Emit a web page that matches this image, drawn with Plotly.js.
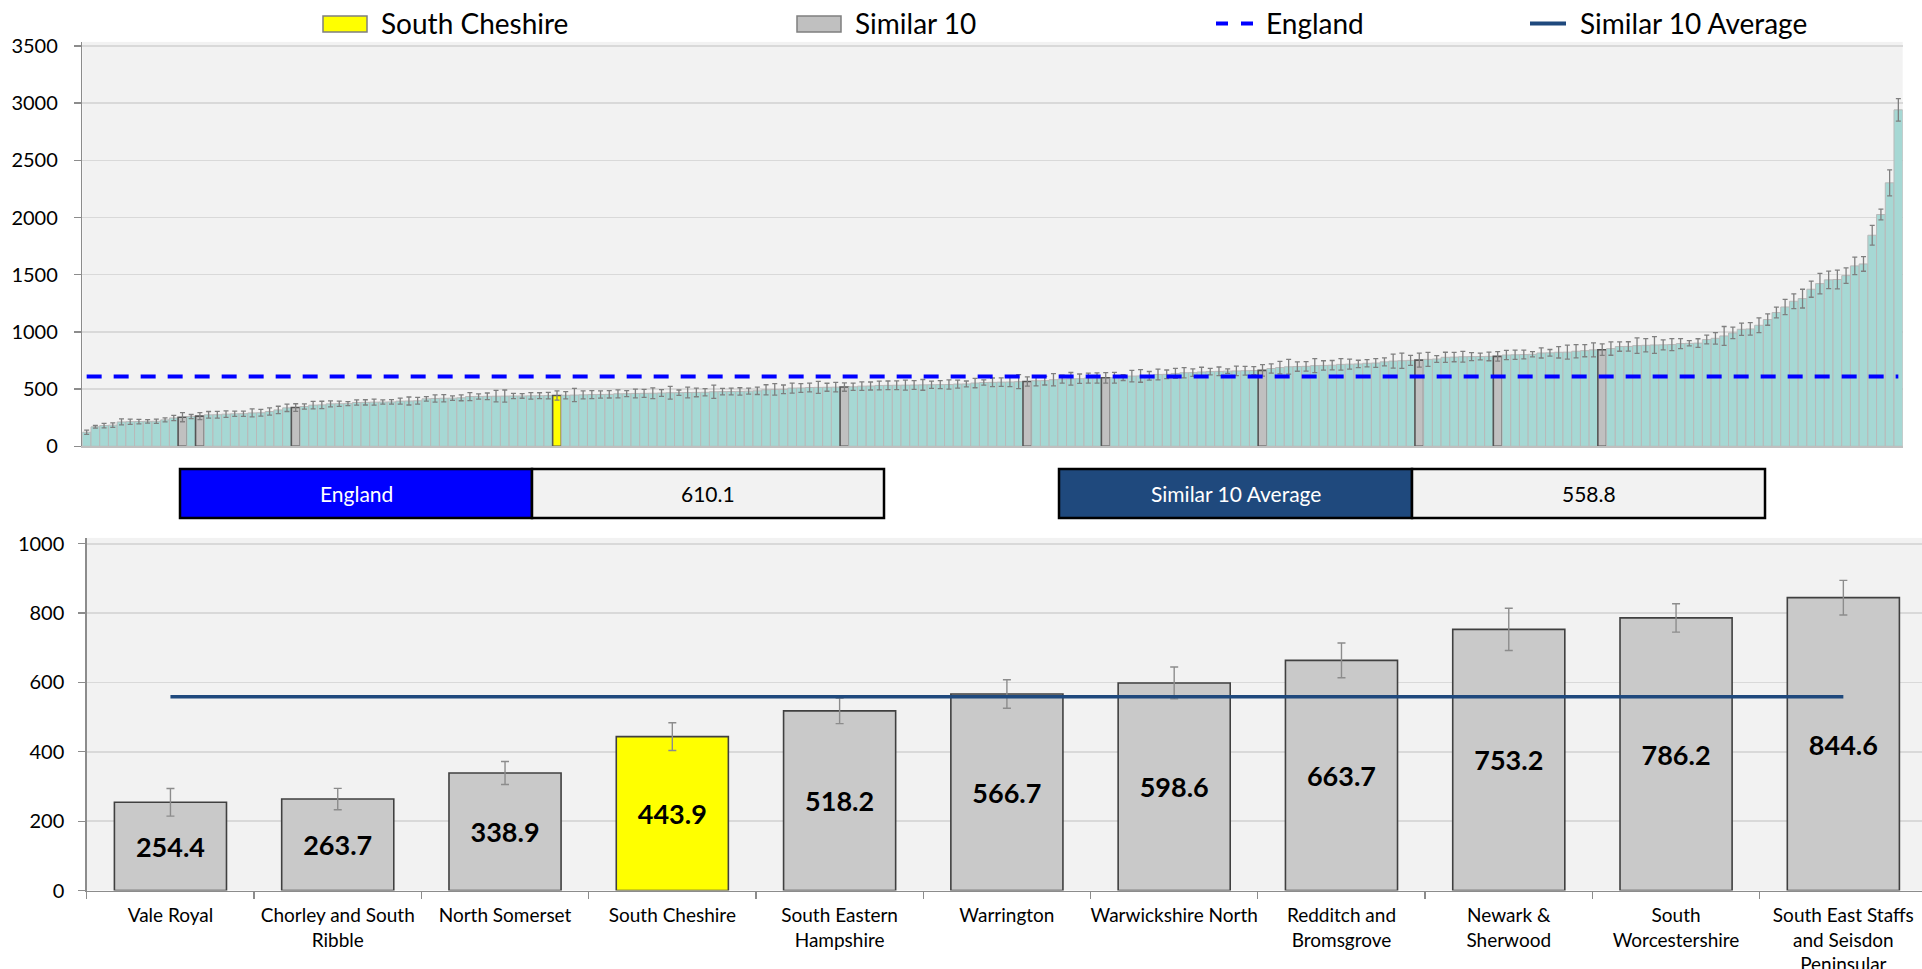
<!DOCTYPE html>
<html>
<head>
<meta charset="utf-8">
<script src="https://cdn.plot.ly/plotly-3.0.1.min.js"></script>
<style>
html, body { margin: 0; padding: 0; overflow: hidden; background: #ffffff; }
#chart { width: 1927px; height: 969px; }
</style>
</head>
<body>
<div id="chart"></div>
<script>
// ---------------- DATA ----------------
// All areas ranked (ascending), rate values
const rankValues = [
  123, 170, 181, 185, 213, 215, 216, 218, 219, 231,
  248, 254.4, 260, 263.7, 275, 276, 281, 284, 285, 292,
  293, 304, 318, 336, 338.9, 348, 360, 362, 371, 372,
  373, 383, 384, 386, 387, 388, 395, 396, 398, 415,
  418, 420, 421, 424, 435, 436, 437, 438, 439, 440,
  440, 441, 442, 443, 443.9, 446, 448, 450, 452, 453,
  454, 459, 460, 462, 463, 464, 466, 468, 469, 470,
  471, 472, 477, 478, 479, 480, 482, 485, 494, 497,
  498, 509, 510, 514, 515, 516, 517, 518.2, 520, 526,
  527, 532, 533, 534, 535, 536, 537, 538, 539, 540,
  544, 545, 553, 558, 559, 561, 562, 565, 566.7, 573,
  574, 582, 588, 590, 591, 596, 597, 598.6, 600, 601,
  614, 615, 616, 628, 629, 637, 643, 644, 650, 653,
  655, 657, 659, 661, 662, 663.7, 680, 688, 695, 697,
  699, 705, 707, 709, 716, 718, 720, 726, 728, 738,
  745, 748, 751, 753.2, 760, 763, 778, 780, 783, 784,
  785, 786, 786.2, 798, 800, 802, 804, 816, 817, 822,
  823, 831, 836, 843, 844.6, 854, 872, 873, 880, 883,
  886, 887, 889, 898, 900, 902, 933, 944, 965, 991,
  1023, 1026, 1058, 1108, 1169, 1218, 1268, 1291, 1373, 1422,
  1455, 1458, 1492, 1577, 1594, 1845, 2026, 2303, 2941
];
// Half-width of the confidence interval for each ranked area
const rankErrors = [
  18, 12, 20, 20, 26, 23, 20, 15, 18, 18,
  23, 40, 18, 31, 29, 29, 29, 23, 23, 35,
  29, 32, 32, 32, 33, 23, 32, 32, 26, 23,
  18, 23, 23, 26, 18, 20, 26, 35, 29, 20,
  32, 32, 20, 26, 35, 23, 29, 50, 53, 23,
  20, 29, 26, 29, 40, 32, 58, 35, 35, 32,
  32, 35, 26, 38, 35, 47, 29, 55, 23, 47,
  38, 32, 58, 29, 29, 32, 26, 32, 44, 50,
  38, 44, 38, 38, 53, 35, 41, 37, 32, 38,
  35, 38, 38, 38, 44, 38, 47, 32, 35, 41,
  35, 26, 41, 23, 38, 38, 41, 61, 41, 44,
  38, 53, 35, 55, 41, 44, 44, 46, 47, 26,
  50, 55, 38, 47, 38, 44, 44, 32, 41, 29,
  38, 20, 41, 38, 35, 50, 41, 55, 64, 41,
  41, 61, 41, 41, 50, 44, 32, 32, 38, 35,
  61, 67, 44, 61, 61, 29, 44, 41, 47, 35,
  29, 38, 41, 41, 41, 38, 23, 44, 29, 50,
  61, 58, 53, 61, 50, 58, 41, 41, 67, 58,
  73, 44, 53, 44, 23, 38, 38, 50, 82, 50,
  53, 55, 64, 50, 47, 67, 64, 82, 70, 90,
  76, 82, 67, 76, 64, 87, 47, 114, 99
];
// 1-based rank positions of the highlighted areas in the ranked chart
const localRank = 55;
const similarRanks = [12, 14, 25, 88, 109, 118, 136, 154, 163, 175];

// Lower chart: South Cheshire and its 10 similar areas
const areaNames = [
  "Vale Royal", "Chorley and South Ribble", "North Somerset", "South Cheshire",
  "South Eastern Hampshire", "Warrington", "Warwickshire North",
  "Redditch and Bromsgrove", "Newark & Sherwood", "South Worcestershire",
  "South East Staffs and Seisdon Peninsular"
];
const areaTickLabels = [
  "Vale Royal", "Chorley and South<br>Ribble", "North Somerset", "South Cheshire",
  "South Eastern<br>Hampshire", "Warrington", "Warwickshire North",
  "Redditch and<br>Bromsgrove", "Newark &<br>Sherwood", "South<br>Worcestershire",
  "South East Staffs<br>and Seisdon<br>Peninsular"
];
const areaValues = [254.4, 263.7, 338.9, 443.9, 518.2, 566.7, 598.6, 663.7, 753.2, 786.2, 844.6];
const areaErrors = [40, 31, 33, 40, 37, 41, 46, 50, 61, 41, 50];
const localName = "South Cheshire";
const englandValue = 610.1;
const similarAverage = 558.8;

const topTicks = [0, 500, 1000, 1500, 2000, 2500, 3000, 3500];
const bottomTicks = [0, 200, 400, 600, 800, 1000];

// ---------------- STYLE ----------------
const W = 1927, H = 969;
const FONT = "Lato, 'Open Sans', 'DejaVu Sans', sans-serif";
const TEAL = "#a6d8d4";
const GREY = "#c0c0c0";
const GREY2 = "#c9c9c9";
const YELLOW = "#ffff00";
const ENG_BLUE = "#0000ff";
const AVG_BLUE = "#1f497d";
function fx(p) { return p / W; }
function fy(p) { return 1 - p / H; }

// ---------------- TRACES ----------------
const ranks = rankValues.map((v, i) => i + 1);
const isHi = r => r === localRank || similarRanks.includes(r);
const rankColors = ranks.map(r => r === localRank ? YELLOW : (similarRanks.includes(r) ? GREY : TEAL));
const rankLineColors = ranks.map(r => isHi(r) ? "#555555" : "#b9b9b9");
const rankLineWidths = ranks.map(r => isHi(r) ? 1.6 : 1);

const traces = [
  {
    type: "bar", x: ranks, y: rankValues, width: 1,
    xaxis: "x", yaxis: "y",
    marker: { color: rankColors, line: { color: rankLineColors, width: rankLineWidths } },
    error_y: { type: "data", array: rankErrors, visible: true, color: "#7f7f7f", thickness: 1.3, width: 2.5 },
    hoverinfo: "x+y"
  },
  {
    type: "scatter", mode: "lines", x: ranks, y: ranks.map(() => englandValue),
    xaxis: "x", yaxis: "y",
    line: { color: ENG_BLUE, width: 4, dash: "15px,12px" }, hoverinfo: "y"
  },
  {
    type: "bar", x: areaNames, y: areaValues, width: 0.67,
    xaxis: "x2", yaxis: "y2",
    marker: { color: areaNames.map(n => n === localName ? YELLOW : GREY2), line: { color: "#404040", width: 1.6 } },
    error_y: { type: "data", array: areaErrors, visible: true, color: "#8c8c8c", thickness: 1.4, width: 4 },
    text: areaValues.map(v => v.toFixed(1)),
    textposition: "inside", insidetextanchor: "middle", textangle: 0,
    insidetextfont: { family: FONT, size: 27, color: "#000000", weight: "bold" },
    hoverinfo: "x+y"
  },
  {
    type: "scatter", mode: "lines", x: areaNames, y: areaNames.map(() => similarAverage),
    xaxis: "x2", yaxis: "y2",
    line: { color: AVG_BLUE, width: 3.5 }, hoverinfo: "y"
  }
];

// ---------------- LEGEND + TABLE DECORATIONS ----------------
const legY = 23.5;
const shapes = [
  { type: "rect", xref: "paper", yref: "paper", x0: fx(323), x1: fx(367), y0: fy(32), y1: fy(16), fillcolor: YELLOW, line: { color: "#7f7f7f", width: 1.5 } },
  { type: "rect", xref: "paper", yref: "paper", x0: fx(797), x1: fx(841), y0: fy(32), y1: fy(16), fillcolor: GREY, line: { color: "#7f7f7f", width: 1.5 } },
  { type: "line", xref: "paper", yref: "paper", x0: fx(1216), x1: fx(1254), y0: fy(legY), y1: fy(legY), line: { color: ENG_BLUE, width: 4, dash: "12px,13px" } },
  { type: "line", xref: "paper", yref: "paper", x0: fx(1530), x1: fx(1566), y0: fy(legY), y1: fy(legY), line: { color: AVG_BLUE, width: 4 } },
  { type: "rect", xref: "paper", yref: "paper", x0: fx(180), x1: fx(532), y0: fy(518), y1: fy(469), fillcolor: ENG_BLUE, line: { color: "#000000", width: 2.5 } },
  { type: "rect", xref: "paper", yref: "paper", x0: fx(532), x1: fx(884), y0: fy(518), y1: fy(469), fillcolor: "#f2f2f2", line: { color: "#000000", width: 2.5 } },
  { type: "rect", xref: "paper", yref: "paper", x0: fx(1059), x1: fx(1412), y0: fy(518), y1: fy(469), fillcolor: AVG_BLUE, line: { color: "#000000", width: 2.5 } },
  { type: "rect", xref: "paper", yref: "paper", x0: fx(1412), x1: fx(1765), y0: fy(518), y1: fy(469), fillcolor: "#f2f2f2", line: { color: "#000000", width: 2.5 } }
];
function legText(t, x) {
  return { text: t, xref: "paper", yref: "paper", x: fx(x), y: fy(legY), xanchor: "left", yanchor: "middle", showarrow: false, font: { family: FONT, size: 28, color: "#000000" } };
}
function cellText(t, x, color) {
  return { text: t, xref: "paper", yref: "paper", x: fx(x), y: fy(493.5), xanchor: "center", yanchor: "middle", showarrow: false, font: { family: FONT, size: 21, color: color } };
}
const annotations = [
  legText(localName, 379),
  legText("Similar 10", 853),
  legText("England", 1264),
  legText("Similar 10 Average", 1578),
  cellText("England", 356, "#ffffff"),
  cellText(englandValue.toFixed(1), 708, "#000000"),
  cellText("Similar 10 Average", 1235.5, "#ffffff"),
  cellText(similarAverage.toFixed(1), 1588.5, "#000000")
];

// ---------------- LAYOUT ----------------
const layout = {
  width: W, height: H,
  margin: { l: 0, r: 0, t: 0, b: 0, pad: 0 },
  paper_bgcolor: "#ffffff",
  plot_bgcolor: "#f2f2f2",
  showlegend: false,
  font: { family: FONT, size: 20, color: "#000000" },
  xaxis: {
    domain: [fx(82.3), fx(1902.7)], anchor: "y",
    range: [0.5, rankValues.length + 0.5],
    showticklabels: false, ticks: "", showgrid: false, zeroline: false,
    showline: true, linecolor: "#bfbfbf", linewidth: 1.5, fixedrange: true
  },
  yaxis: {
    domain: [fy(446.3), fy(41.9)], anchor: "x",
    range: [0, 3535], tickvals: topTicks, ticktext: topTicks.map(String),
    showgrid: true, gridcolor: "#d9d9d9", gridwidth: 1.5, zeroline: false,
    showline: true, linecolor: "#8c8c8c", linewidth: 1.5,
    ticks: "outside", ticklen: 7, tickcolor: "#8c8c8c", tickwidth: 1.3,
    ticklabelstandoff: 12,
    tickfont: { family: FONT, size: 20, color: "#000000" }, fixedrange: true
  },
  xaxis2: {
    domain: [fx(86.8), 1], anchor: "y2", type: "category",
    tickvals: areaNames, ticktext: areaTickLabels,
    tickson: "boundaries", ticks: "outside", ticklen: 7, tickcolor: "#8c8c8c", tickwidth: 1.3,
    showgrid: false, zeroline: false,
    showline: true, linecolor: "#8c8c8c", linewidth: 1.5,
    tickfont: { family: FONT, size: 19, color: "#000000" }, tickangle: 0,
    ticklabelstandoff: 7, fixedrange: true
  },
  yaxis2: {
    domain: [fy(890.5), fy(537.9)], anchor: "x2",
    range: [0, 1017], tickvals: bottomTicks, ticktext: bottomTicks.map(String),
    showgrid: true, gridcolor: "#d9d9d9", gridwidth: 1.5, zeroline: false,
    showline: true, linecolor: "#8c8c8c", linewidth: 1.5,
    ticks: "outside", ticklen: 7, tickcolor: "#8c8c8c", tickwidth: 1.3,
    ticklabelstandoff: 10,
    tickfont: { family: FONT, size: 20, color: "#000000" }, fixedrange: true
  },
  shapes: shapes,
  annotations: annotations
};

Plotly.newPlot("chart", traces, layout, { staticPlot: true, displayModeBar: false });
</script>
</body>
</html>
